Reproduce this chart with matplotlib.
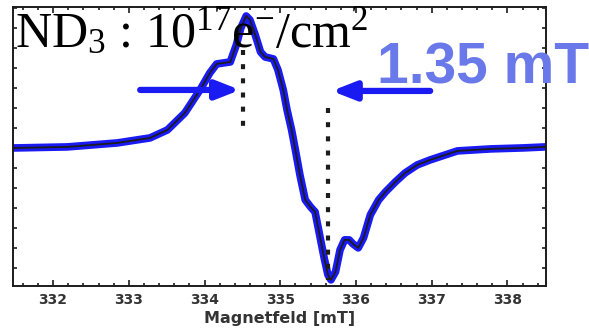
import matplotlib
matplotlib.use('Agg')
import matplotlib.pyplot as plt
from matplotlib.ticker import MultipleLocator, NullFormatter

# ESR spectrum of ND3 film: magnetic field (mT) vs first-derivative signal (arb. units)
field = [331.47, 331.52, 332.19, 332.85, 333.28, 333.51, 333.74, 333.94, 334.07,
         334.16, 334.34, 334.42, 334.48, 334.55, 334.60, 334.67, 334.74, 334.80,
         334.91, 334.97, 335.04, 335.09, 335.15, 335.20, 335.26, 335.33, 335.40,
         335.46, 335.52, 335.58, 335.63, 335.67, 335.73, 335.79, 335.85, 335.91,
         335.96, 336.03, 336.10, 336.19, 336.30, 336.39, 336.52, 336.65, 336.81,
         336.98, 337.34, 337.78, 338.21, 338.50]
signal = [0, 0, 1, 5, 10, 18, 35, 58, 75, 84, 86, 103, 120, 132, 128, 113, 96, 91,
          89, 78, 58, 38, 18, -2, -27, -52, -59, -64, -87, -110, -127, -132, -124,
          -102, -92, -92, -96, -100, -90, -67, -52, -44, -34, -25, -17, -12, -3, -1,
          0, 1]

# extrema markers and the arrows pointing at them
low_mark_field = 334.51
low_mark_span = [98, 20]
high_mark_field = 335.63
high_mark_span = [40, -132]
left_arrow = [(333.15, 58), (334.47, 58)]
right_arrow = [(336.98, 57), (335.68, 57)]

width_label = '1.35 mT'
sample_label = r'ND$\mathregular{_3}$ : 10$\mathregular{^{17}}$e$\mathregular{^{-}}$/cm$\mathregular{^{2}}$'

fig = plt.figure(figsize=(5.89, 3.32), dpi=100)
ax = fig.add_axes([0.022, 0.139, 0.905, 0.840])

blue = '#1a1af2'
ink = '#1c1c1c'

ax.plot(field, signal, color=blue, lw=5.5, solid_capstyle='round', solid_joinstyle='round')
ax.plot(field, signal, color=ink, lw=1.3)

ax.plot([low_mark_field] * 2, low_mark_span, color=ink, lw=3, dashes=(1.2, 2.2))
ax.plot([high_mark_field] * 2, high_mark_span, color=ink, lw=3, dashes=(1.2, 2.2))

for tail, head in (left_arrow, right_arrow):
    ax.annotate('', xy=head, xytext=tail,
                arrowprops=dict(arrowstyle='-|>,head_length=1.4,head_width=0.55',
                                color=blue, lw=4.5, shrinkA=0, shrinkB=0))

ax.set_xlim(331.47, 338.51)
ax.set_ylim(-138, 141)
ax.set_xticks([332, 333, 334, 335, 336, 337, 338])
ax.xaxis.set_minor_locator(MultipleLocator(0.2))
ax.yaxis.set_major_locator(MultipleLocator(20))
ax.yaxis.set_major_formatter(NullFormatter())
ax.tick_params(which='both', direction='in', top=True, right=True, color=ink, width=1.2)
ax.tick_params(which='major', length=4, labelsize=10, labelcolor='#333333', pad=5)
ax.tick_params(which='minor', length=2.5)
ax.tick_params(axis='y', which='major', length=3)
for lbl in ax.get_xticklabels():
    lbl.set_fontweight('bold')
for s in ax.spines.values():
    s.set_color(ink)
    s.set_linewidth(1.4)

ax.set_xlabel('Magnetfeld [mT]', fontsize=11.5, fontweight='bold', color='#333333', labelpad=3)

fig.text(15 / 589, 1 - 47 / 332, sample_label, family='Liberation Serif',
         fontsize=36, color='black', va='baseline', zorder=5)
fig.text(377 / 589, 1 - 83 / 332, width_label, family='Liberation Sans',
         fontsize=41, weight='bold', color='#6a79e9', va='baseline', zorder=5)

fig.savefig('out.png', dpi=100)
